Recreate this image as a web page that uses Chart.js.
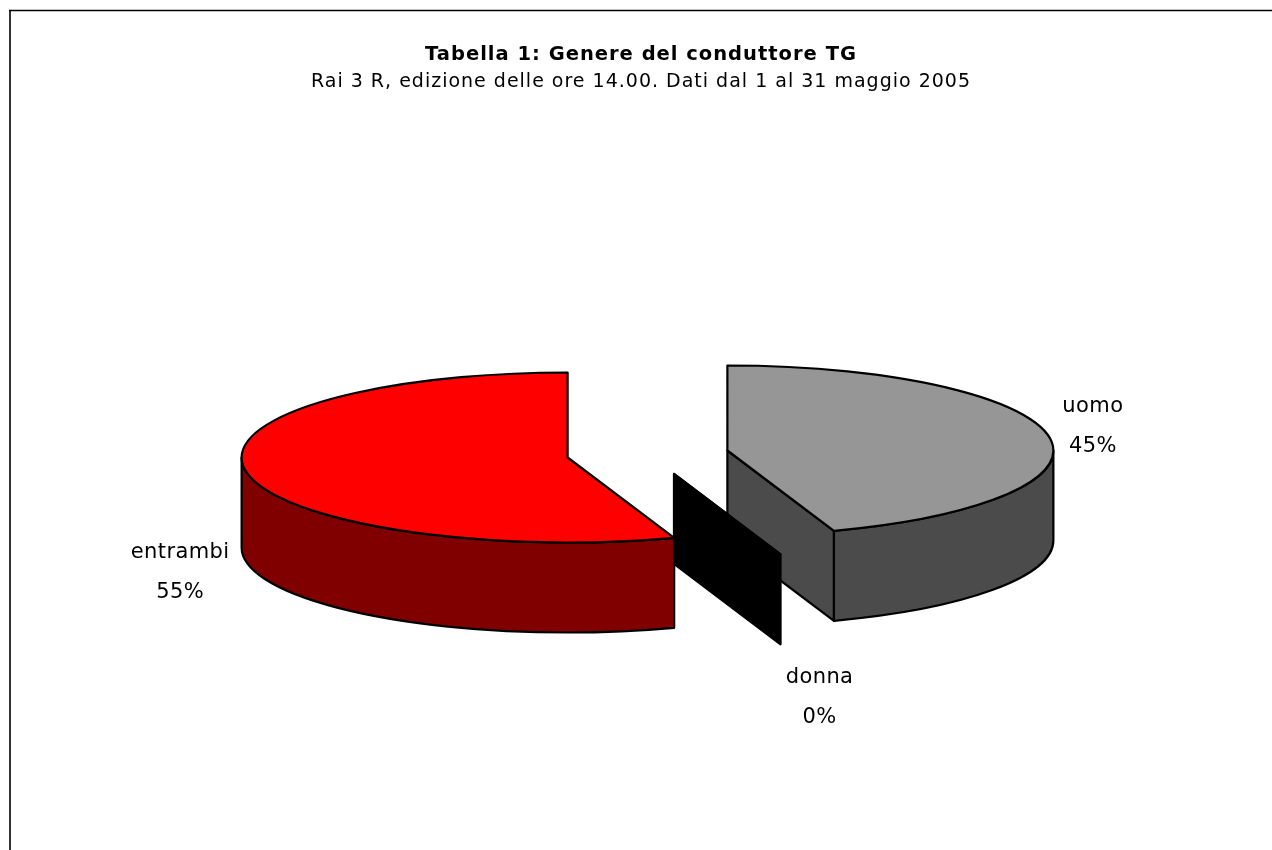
<!DOCTYPE html>
<html><head><meta charset="utf-8">
<style>html,body{margin:0;padding:0;background:#fff;overflow:hidden}#wrap{position:relative;width:1272px;height:850px}</style>
<script src="https://cdn.jsdelivr.net/npm/chart.js@4"></script>
</head><body><div id="wrap"><canvas id="c" width="1272" height="850"></canvas></div>
<script>
const categories = ['uomo', 'donna', 'entrambi'];
const values = [44.7, 0, 55.3];
const percentLabels = ['45%', '0%', '55%'];
const topColors = ['#969696', '#000000', '#ff0000'];
const sideColors = ['#4b4b4b', '#000000', '#800000'];
const titleText = 'Tabella 1: Genere del conduttore TG';
const subtitleText = 'Rai 3 R, edizione delle ore 14.00. Dati dal 1 al 31 maggio 2005';
const FONT = '"DejaVu Sans"';
const view = {cx: 647.5, cy: 454, rx: 326, ry: 85, depth: 90, explode: 81};
const labelOut = [{x: 44, y: -10}, {x: 39, y: 53}, {x: -66, y: 11}];

function proj(el) {
  const mid = (el.startAngle + el.endAngle) / 2;
  return {mid,
    sx: view.rx / el.outerRadius,
    sy: view.ry / el.outerRadius,
    x: view.cx + Math.cos(mid) * view.explode,
    y: view.cy + Math.sin(mid) * view.explode * view.ry / view.rx};
}
const EPS = 1e-6;
function wall(ctx, p, a) {
  const ex = p.x + Math.cos(a) * view.rx, ey = p.y + Math.sin(a) * view.ry;
  ctx.beginPath();
  ctx.moveTo(p.x, p.y); ctx.lineTo(ex, ey); ctx.lineTo(ex, ey + view.depth); ctx.lineTo(p.x, p.y + view.depth);
  ctx.closePath(); ctx.fill(); ctx.stroke();
}
const pie3d = {
  id: 'pie3d',
  beforeDraw(chart) {
    const ctx = chart.ctx;
    ctx.save();
    ctx.lineWidth = 2;
    ctx.strokeStyle = '#333';
    ctx.beginPath(); ctx.moveTo(10, 850); ctx.lineTo(10, 10); ctx.stroke();
    ctx.lineWidth = 1.5;
    ctx.strokeStyle = '#000';
    ctx.beginPath(); ctx.moveTo(9, 10.5); ctx.lineTo(1272, 10.5); ctx.stroke();
    ctx.restore();
    ctx.letterSpacing = '1px';
  },
  beforeDatasetDraw(chart) {
    const ctx = chart.ctx, arcs = chart.getDatasetMeta(0).data;
    // side walls, back to front
    arcs.forEach((el, i) => {
      const p = proj(el), a0 = el.startAngle, a1 = el.endAngle;
      ctx.save();
      ctx.fillStyle = sideColors[i]; ctx.strokeStyle = '#000'; ctx.lineWidth = 2.2; ctx.lineJoin = 'round';
      if (Math.cos(a0) < -EPS) wall(ctx, p, a0);
      if (Math.cos(a1) > EPS) wall(ctx, p, a1);
      const s = Math.max(a0, 0), e = Math.min(a1, Math.PI);
      if (e > s) {
        ctx.beginPath();
        ctx.ellipse(p.x, p.y, view.rx, view.ry, 0, s, e);
        ctx.ellipse(p.x, p.y + view.depth, view.rx, view.ry, 0, e, s, true);
        ctx.closePath(); ctx.fill(); ctx.stroke();
      }
      ctx.restore();
    });
    // top faces: the library's own arcs, seen through the projection
    arcs.forEach((el) => {
      const p = proj(el);
      ctx.save();
      ctx.translate(p.x, p.y);
      ctx.scale(p.sx, p.sy);
      ctx.translate(-el.x, -el.y);
      el.draw(ctx);
      ctx.restore();
    });
    // outlines and labels
    arcs.forEach((el, i) => {
      const p = proj(el), a0 = el.startAngle, a1 = el.endAngle;
      ctx.save();
      ctx.strokeStyle = '#000'; ctx.lineWidth = 2.2; ctx.lineJoin = 'round';
      ctx.beginPath();
      ctx.moveTo(p.x, p.y);
      ctx.ellipse(p.x, p.y, view.rx, view.ry, 0, a0, a1);
      ctx.closePath();
      ctx.stroke();
      ctx.fillStyle = '#000'; ctx.textAlign = 'center'; ctx.textBaseline = 'middle';
      ctx.font = '400 21px ' + FONT;
      ctx.letterSpacing = '0.4px';
      const below = Math.sin(p.mid) > 0 ? view.depth : 0;
      const lx = p.x + Math.cos(p.mid) * view.rx + labelOut[i].x;
      const ly = p.y + Math.sin(p.mid) * view.ry + below + labelOut[i].y;
      ctx.fillText(categories[i], lx, ly - 20);
      ctx.fillText(percentLabels[i], lx, ly + 20);
      ctx.restore();
    });
    return false;
  }
};
new Chart(document.getElementById('c'), {
  type: 'pie',
  data: {labels: categories, datasets: [{data: values, backgroundColor: topColors, borderWidth: 0}]},
  plugins: [pie3d],
  options: {
    responsive: false, animation: false, rotation: 0,
    layout: {padding: {left: 10, top: 43, right: 0, bottom: 0}},
    plugins: {
      legend: {display: false}, tooltip: {enabled: false},
      title: {display: true, text: titleText, color: '#000', font: {family: FONT, size: 19.5, weight: 'bold'}, padding: {top: 0, bottom: 4}},
      subtitle: {display: true, text: subtitleText, color: '#000', font: {family: FONT, size: 19, weight: 'normal'}, padding: {top: 0, bottom: 0}}
    }
  }
});
</script></body></html>
